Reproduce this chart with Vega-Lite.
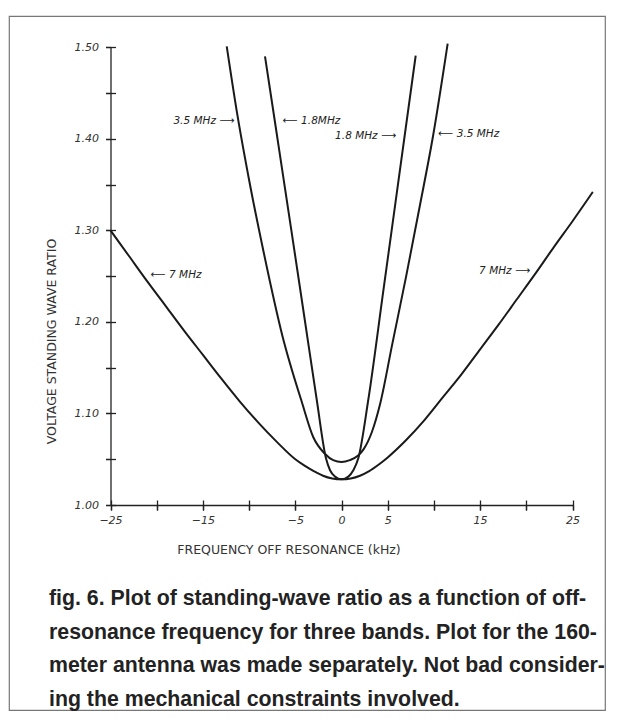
{
  "$schema": "https://vega.github.io/schema/vega-lite/v6.json",
  "width": 596,
  "height": 694,
  "autosize": {"type": "none"},
  "padding": {"left": 9, "top": 16, "right": 13, "bottom": 9},
  "background": "white",
  "config": {
    "view": {"stroke": "#777", "strokeWidth": 1.2, "fill": "white"},
    "font": "DejaVu Sans",
    "axis": {"grid": false}
  },
  "title": {
    "text": [
      "fig. 6. Plot of standing-wave ratio as a function of off-",
      "resonance frequency for three bands. Plot for the 160-",
      "meter antenna was made separately. Not bad consider-",
      "ing the mechanical constraints involved."
    ],
    "orient": "bottom",
    "anchor": "start",
    "frame": "group",
    "font": "Liberation Sans",
    "fontSize": 21.3,
    "fontWeight": "bold",
    "color": "#222",
    "lineHeight": 33.5,
    "baseline": "alphabetic",
    "offset": -105,
    "dx": 40
  },
  "datasets": {
    "curves": [
      {"band": "7 MHz", "x": -25, "y": 1.300},
      {"band": "7 MHz", "x": -23, "y": 1.272},
      {"band": "7 MHz", "x": -21, "y": 1.244},
      {"band": "7 MHz", "x": -19, "y": 1.217},
      {"band": "7 MHz", "x": -17, "y": 1.190},
      {"band": "7 MHz", "x": -15, "y": 1.164},
      {"band": "7 MHz", "x": -13, "y": 1.138},
      {"band": "7 MHz", "x": -11, "y": 1.113},
      {"band": "7 MHz", "x": -9, "y": 1.090},
      {"band": "7 MHz", "x": -7, "y": 1.069},
      {"band": "7 MHz", "x": -5, "y": 1.050},
      {"band": "7 MHz", "x": -4, "y": 1.043},
      {"band": "7 MHz", "x": -3, "y": 1.037},
      {"band": "7 MHz", "x": -2, "y": 1.032},
      {"band": "7 MHz", "x": -1, "y": 1.029},
      {"band": "7 MHz", "x": 0, "y": 1.028},
      {"band": "7 MHz", "x": 1, "y": 1.029},
      {"band": "7 MHz", "x": 2, "y": 1.032},
      {"band": "7 MHz", "x": 3, "y": 1.037},
      {"band": "7 MHz", "x": 4, "y": 1.044},
      {"band": "7 MHz", "x": 5, "y": 1.052},
      {"band": "7 MHz", "x": 7, "y": 1.071},
      {"band": "7 MHz", "x": 9, "y": 1.093},
      {"band": "7 MHz", "x": 11, "y": 1.118},
      {"band": "7 MHz", "x": 13, "y": 1.143},
      {"band": "7 MHz", "x": 15, "y": 1.170},
      {"band": "7 MHz", "x": 17, "y": 1.197},
      {"band": "7 MHz", "x": 19, "y": 1.225},
      {"band": "7 MHz", "x": 21, "y": 1.253},
      {"band": "7 MHz", "x": 23, "y": 1.282},
      {"band": "7 MHz", "x": 25, "y": 1.310},
      {"band": "7 MHz", "x": 27.2, "y": 1.342},
      {"band": "3.5 MHz", "x": -12.42, "y": 1.501},
      {"band": "3.5 MHz", "x": -11.3, "y": 1.428},
      {"band": "3.5 MHz", "x": -10, "y": 1.355},
      {"band": "3.5 MHz", "x": -8.4, "y": 1.275},
      {"band": "3.5 MHz", "x": -6.4, "y": 1.185},
      {"band": "3.5 MHz", "x": -4.31, "y": 1.113},
      {"band": "3.5 MHz", "x": -3.05, "y": 1.074},
      {"band": "3.5 MHz", "x": -1.8, "y": 1.056},
      {"band": "3.5 MHz", "x": -0.9, "y": 1.049},
      {"band": "3.5 MHz", "x": 0, "y": 1.047},
      {"band": "3.5 MHz", "x": 0.9, "y": 1.049},
      {"band": "3.5 MHz", "x": 1.8, "y": 1.054},
      {"band": "3.5 MHz", "x": 2.4, "y": 1.061},
      {"band": "3.5 MHz", "x": 3.3, "y": 1.080},
      {"band": "3.5 MHz", "x": 4.17, "y": 1.110},
      {"band": "3.5 MHz", "x": 5.5, "y": 1.176},
      {"band": "3.5 MHz", "x": 7, "y": 1.250},
      {"band": "3.5 MHz", "x": 8.5, "y": 1.328},
      {"band": "3.5 MHz", "x": 9.94, "y": 1.405},
      {"band": "3.5 MHz", "x": 11.49, "y": 1.504},
      {"band": "1.8 MHz", "x": -8.28, "y": 1.490},
      {"band": "1.8 MHz", "x": -7, "y": 1.405},
      {"band": "1.8 MHz", "x": -5.5, "y": 1.305},
      {"band": "1.8 MHz", "x": -4, "y": 1.204},
      {"band": "1.8 MHz", "x": -2.68, "y": 1.115},
      {"band": "1.8 MHz", "x": -1.68, "y": 1.051},
      {"band": "1.8 MHz", "x": -1.24, "y": 1.038},
      {"band": "1.8 MHz", "x": -0.7, "y": 1.031},
      {"band": "1.8 MHz", "x": 0, "y": 1.028},
      {"band": "1.8 MHz", "x": 0.74, "y": 1.031},
      {"band": "1.8 MHz", "x": 1.28, "y": 1.038},
      {"band": "1.8 MHz", "x": 1.82, "y": 1.051},
      {"band": "1.8 MHz", "x": 2.9, "y": 1.115},
      {"band": "1.8 MHz", "x": 4.5, "y": 1.232},
      {"band": "1.8 MHz", "x": 6, "y": 1.342},
      {"band": "1.8 MHz", "x": 8.03, "y": 1.491}
    ],
    "labelsRight": [
      {"text": "3.5 MHz ⟶", "x": -11.6, "y": 1.420},
      {"text": "1.8 MHz ⟶", "x": 5.9, "y": 1.403},
      {"text": "7 MHz ⟶", "x": 20.4, "y": 1.256}
    ],
    "labelsLeft": [
      {"text": "⟵ 1.8MHz", "x": -6.36, "y": 1.420},
      {"text": "⟵ 3.5 MHz", "x": 10.48, "y": 1.405},
      {"text": "⟵ 7 MHz", "x": -20.65, "y": 1.251}
    ]
  },
  "layer": [
    {
      "data": {"name": "curves"},
      "mark": {"type": "line", "color": "#1a1a1a", "strokeWidth": 2, "interpolate": "monotone"},
      "encoding": {
        "x": {
          "field": "x", "type": "quantitative",
          "scale": {"domain": [-25, 25], "range": [101.5, 563.5], "nice": false, "zero": false},
          "axis": {
            "orient": "bottom", "offset": -205,
            "values": [-25, -20, -15, -10, -5, 0, 5, 10, 15, 20, 25],
            "labelExpr": "indexof([-25, -15, -5, 0, 5, 15, 25], datum.value) >= 0 ? datum.label : ''",
            "tickSize": 5, "tickWidth": 1.3, "tickColor": "#222",
            "domainColor": "#222", "domainWidth": 1.3,
            "labelFont": "DejaVu Sans", "labelFontStyle": "italic", "labelFontSize": 11,
            "labelColor": "#333", "labelPadding": 4, "labelFlush": false, "labelOverlap": false,
            "title": "FREQUENCY OFF RESONANCE (kHz)",
            "titleFont": "DejaVu Sans", "titleFontSize": 12.5, "titleFontWeight": "normal",
            "titleColor": "#333", "titleX": 279.5, "titleY": 48,
            "titleBaseline": "alphabetic", "titleAlign": "center"
          }
        },
        "y": {
          "field": "y", "type": "quantitative",
          "scale": {"domain": [1.0, 1.5], "range": [489, 31.3], "nice": false, "zero": false},
          "axis": {
            "orient": "left", "offset": -101.5,
            "values": [1.0, 1.05, 1.1, 1.15, 1.2, 1.25, 1.3, 1.35, 1.4, 1.45, 1.5],
            "labelExpr": "round(datum.value * 100) % 10 == 0 ? format(datum.value, '.2f') : ''",
            "tickSize": 5, "tickWidth": 1.3, "tickColor": "#222",
            "domainColor": "#222", "domainWidth": 1.3,
            "labelFont": "DejaVu Sans", "labelFontStyle": "italic", "labelFontSize": 11,
            "labelColor": "#333", "labelPadding": 7, "labelFlush": false, "labelOverlap": false,
            "title": "VOLTAGE STANDING WAVE RATIO",
            "titleFont": "DejaVu Sans", "titleFontSize": 12.5, "titleFontWeight": "normal",
            "titleColor": "#333", "titleX": -55.5, "titleY": 325,
            "titleBaseline": "alphabetic", "titleAlign": "center", "titleAngle": -90
          }
        },
        "detail": {"field": "band", "type": "nominal"},
        "order": {"field": "x", "type": "quantitative"}
      }
    },
    {
      "data": {"name": "labelsRight"},
      "mark": {"type": "text", "align": "right", "baseline": "middle", "font": "DejaVu Sans", "fontStyle": "italic", "fontSize": 10.5, "color": "#222"},
      "encoding": {
        "x": {
          "field": "x", "type": "quantitative",
          "axis": {
            "orient": "bottom", "offset": -210,
            "values": [-25, -20, -15, -10, -5, 0, 5, 10, 15, 20, 25],
            "tickSize": 10, "tickWidth": 1.3, "tickColor": "#222",
            "labels": false, "domain": false, "title": null
          }
        },
        "y": {
          "field": "y", "type": "quantitative",
          "axis": {
            "orient": "left", "offset": -106.5,
            "values": [1.0, 1.05, 1.1, 1.15, 1.2, 1.25, 1.3, 1.35, 1.4, 1.45, 1.5],
            "tickSize": 10, "tickWidth": 1.3, "tickColor": "#222",
            "labels": false, "domain": false, "title": null
          }
        },
        "text": {"field": "text", "type": "nominal"}
      }
    },
    {
      "data": {"name": "labelsLeft"},
      "mark": {"type": "text", "align": "left", "baseline": "middle", "font": "DejaVu Sans", "fontStyle": "italic", "fontSize": 10.5, "color": "#222"},
      "encoding": {
        "x": {"field": "x", "type": "quantitative", "axis": null},
        "y": {"field": "y", "type": "quantitative", "axis": null},
        "text": {"field": "text", "type": "nominal"}
      }
    }
  ],
  "resolve": {"axis": {"x": "independent", "y": "independent"}}
}
